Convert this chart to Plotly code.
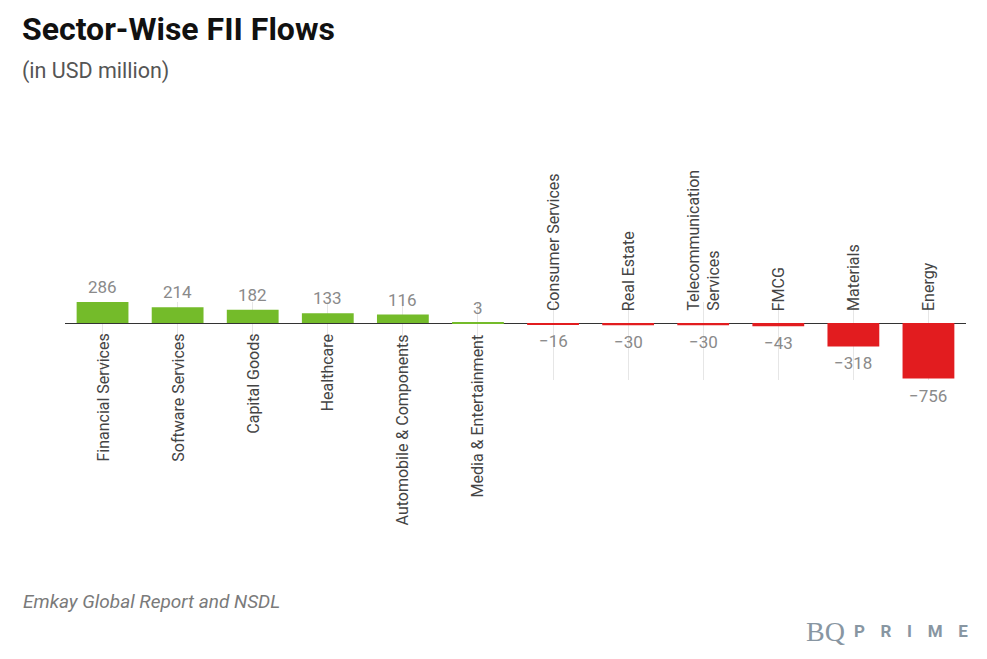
import plotly.graph_objects as go

categories = ["Financial Services", "Software Services", "Capital Goods", "Healthcare",
              "Automobile & Components", "Media & Entertainment", "Consumer Services",
              "Real Estate", "Telecommunication Services", "FMCG", "Materials", "Energy"]
label_text = ["Financial Services", "Software Services", "Capital Goods", "Healthcare",
              "Automobile & Components", "Media & Entertainment", "Consumer Services",
              "Real Estate", "Telecommunication<br>Services", "FMCG", "Materials", "Energy"]
values = [286, 214, 182, 133, 116, 3, -16, -30, -30, -43, -318, -756]

GREEN = "#74BB2A"
RED = "#E21C1F"
colors = [GREEN if v >= 0 else RED for v in values]

fig = go.Figure(go.Bar(x=categories, y=values, marker=dict(color=colors, line=dict(width=0)),
                       width=0.69, hoverinfo="skip"))

ann = []
for c, t, v in zip(categories, label_text, values):
    txt = f"{v}" if v >= 0 else f"\u2212{abs(v)}"
    ann.append(dict(x=c, y=v, xref="x", yref="y", text=txt, showarrow=False,
                    yanchor="bottom" if v >= 0 else "top", yshift=3 if v >= 0 else -5,
                    font=dict(family="Roboto", size=17, color="#8a8a8a")))
    ann.append(dict(x=c, y=0, xref="x", yref="y", text=t, showarrow=False, textangle=-90,
                    align="left",
                    yanchor="top" if v >= 0 else "bottom", yshift=-9 if v >= 0 else 10,
                    font=dict(family="Roboto", size=16, color="#444444")))

SP = "\u2002\u2009\u2009"
ann += [
    dict(x=20, y=659 - 8, xref="paper", yref="paper", text="<b>Sector-Wise FII Flows</b>",
         showarrow=False, xanchor="left", yanchor="top",
         font=dict(family="Roboto", size=32, color="#111111")),
    dict(x=20, y=659 - 56, xref="paper", yref="paper", text="(in USD million)",
         showarrow=False, xanchor="left", yanchor="top",
         font=dict(family="Roboto", size=21.5, color="#555555")),
    dict(x=21, y=659 - 588, xref="paper", yref="paper", text="<i>Emkay Global Report and NSDL</i>",
         showarrow=False, xanchor="left", yanchor="top",
         font=dict(family="Roboto", size=19, color="#7a7a7a")),
    dict(x=804, y=659 - 614, xref="paper", yref="paper", text="BQ",
         showarrow=False, xanchor="left", yanchor="top",
         font=dict(family="Liberation Serif", size=28, color="#8896A2")),
    dict(x=852, y=659 - 619, xref="paper", yref="paper",
         text="<b>" + SP.join("PRIME") + "</b>",
         showarrow=False, xanchor="left", yanchor="top",
         font=dict(family="Roboto", size=17, color="#8896A2")),
]

W, H = 987, 659
ML, MR, MT, MB = 65, 21, 302, 279
for a in ann:
    if a.get("xref") == "paper":
        a["x"] = (a["x"] - ML) / (W - ML - MR)
        a["y"] = (a["y"] - MB) / (H - MT - MB)

fig.update_layout(
    width=W, height=H,
    margin=dict(l=ML, r=MR, t=MT, b=MB, pad=0),
    paper_bgcolor="white", plot_bgcolor="white",
    showlegend=False, bargap=0.31,
    annotations=ann,
    xaxis=dict(type="category", showticklabels=False, showgrid=True, gridcolor="#e6e6e6",
               gridwidth=1, zeroline=False, showline=False, ticks=""),
    yaxis=dict(range=[-775, 286], showticklabels=False, showgrid=False, zeroline=True,
               zerolinecolor="#333333", zerolinewidth=1, showline=False, ticks="",
               layer="above traces"),
    font=dict(family="Roboto"),
)

fig.write_html("out.html", config={"displayModeBar": False},
               post_script="document.body.style.margin='0';")
